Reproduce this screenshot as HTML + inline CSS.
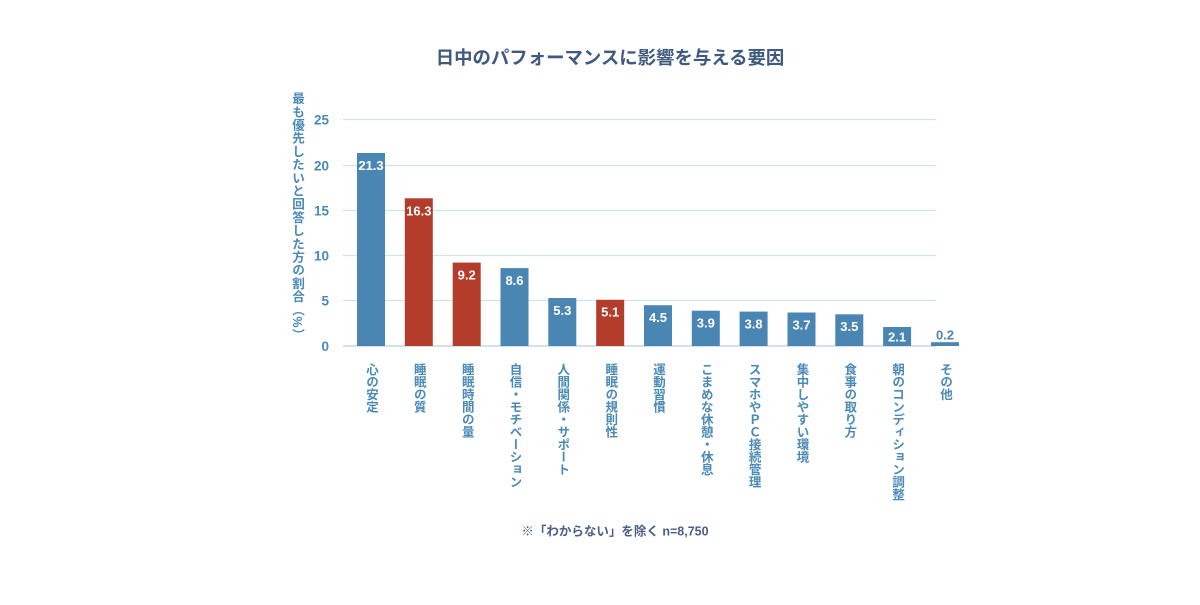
<!DOCTYPE html>
<html><head><meta charset="utf-8"><style>
html,body{margin:0;padding:0;background:#fff;}
#c{position:relative;width:1200px;height:605px;overflow:hidden;background:#fff;font-family:"Liberation Sans","Noto Sans CJK JP",sans-serif;}
svg{position:absolute;left:0;top:0;}
.xl{position:absolute;top:363px;writing-mode:vertical-rl;text-orientation:mixed;font-size:12.5px;font-weight:bold;color:#4a8ab6;line-height:14px;width:14px;white-space:nowrap;font-family:"Liberation Sans","Noto Sans CJK JP",sans-serif;}
.yt{position:absolute;left:290px;top:92px;writing-mode:vertical-rl;text-orientation:mixed;font-size:12.6px;font-weight:bold;color:#4a8ab6;line-height:14px;width:14px;white-space:nowrap;letter-spacing:0.6px;}
</style></head><body><div id="c">
<svg width="1200" height="605" viewBox="0 0 1200 605" font-family="Liberation Sans, Noto Sans CJK JP, sans-serif">
<text x="610" y="64" text-anchor="middle" font-size="18.4" font-weight="bold" fill="#3f5a7e">日中のパフォーマンスに影響を与える要因</text>
<g stroke="#cfe3ea" stroke-width="1.2">
<line x1="343" y1="119.5" x2="936" y2="119.5"/>
<line x1="343" y1="165.5" x2="936" y2="165.5"/>
<line x1="343" y1="210.5" x2="936" y2="210.5"/>
<line x1="343" y1="255.5" x2="936" y2="255.5"/>
<line x1="343" y1="300.5" x2="936" y2="300.5"/>
</g>
<line x1="343" y1="346" x2="936" y2="346" stroke="#c3d9e3" stroke-width="1.5"/>
<g font-size="13.5" font-weight="bold" fill="#4a8ab6" text-anchor="end">
<text x="329" y="124.5">25</text>
<text x="329" y="170.5">20</text>
<text x="329" y="215.5">15</text>
<text x="329" y="260.5">10</text>
<text x="329" y="305.5">5</text>
<text x="329" y="351">0</text>
</g>
<g>
<rect x="357" y="153" width="28" height="193" fill="#4a86b4"/>
<rect x="404.8" y="198.3" width="28" height="147.7" fill="#b33c2a"/>
<rect x="452.7" y="262.6" width="28" height="83.4" fill="#b33c2a"/>
<rect x="500.5" y="268.1" width="28" height="77.9" fill="#4a86b4"/>
<rect x="548.3" y="298" width="28" height="48" fill="#4a86b4"/>
<rect x="596.2" y="299.8" width="28" height="46.2" fill="#b33c2a"/>
<rect x="644" y="305.2" width="28" height="40.8" fill="#4a86b4"/>
<rect x="691.8" y="310.7" width="28" height="35.3" fill="#4a86b4"/>
<rect x="739.6" y="311.6" width="28" height="34.4" fill="#4a86b4"/>
<rect x="787.5" y="312.5" width="28" height="33.5" fill="#4a86b4"/>
<rect x="835.3" y="314.3" width="28" height="31.7" fill="#4a86b4"/>
<rect x="883.1" y="327" width="28" height="19" fill="#4a86b4"/>
<rect x="931" y="342.2" width="28" height="3.8" fill="#4a86b4"/>
</g>
<g font-size="13" font-weight="bold" fill="#fff" text-anchor="middle">
<text x="371" y="170">21.3</text>
<text x="418.8" y="215.3">16.3</text>
<text x="466.7" y="279.5">9.2</text>
<text x="514.5" y="285">8.6</text>
<text x="562.3" y="314.8">5.3</text>
<text x="610.2" y="316.6">5.1</text>
<text x="658" y="322">4.5</text>
<text x="705.8" y="327.5">3.9</text>
<text x="753.6" y="328.4">3.8</text>
<text x="801.5" y="329.3">3.7</text>
<text x="849.3" y="331.1">3.5</text>
<text x="897.1" y="341.5">2.1</text>
<text x="945" y="339.5" fill="#4a86b4">0.2</text>
</g>
<text x="615" y="535.5" text-anchor="middle" font-size="12.5" font-weight="bold" fill="#4a5f84">※「わからない」を除く n=8,750</text>
</svg>
<div class="yt">最も優先したいと回答した方の割合（%）</div>
<div class="xl" style="left:364px">心の安定</div>
<div class="xl" style="left:411.8px">睡眠の質</div>
<div class="xl" style="left:459.7px">睡眠時間の量</div>
<div class="xl" style="left:507.5px">自信・モチベーション</div>
<div class="xl" style="left:555.3px">人間関係・サポート</div>
<div class="xl" style="left:603.2px">睡眠の規則性</div>
<div class="xl" style="left:651px">運動習慣</div>
<div class="xl" style="left:698.8px">こまめな休憩・休息</div>
<div class="xl" style="left:746.6px">スマホやＰＣ接続管理</div>
<div class="xl" style="left:794.5px">集中しやすい環境</div>
<div class="xl" style="left:842.3px">食事の取り方</div>
<div class="xl" style="left:890.1px">朝のコンディション調整</div>
<div class="xl" style="left:938px">その他</div>
</div></body></html>
